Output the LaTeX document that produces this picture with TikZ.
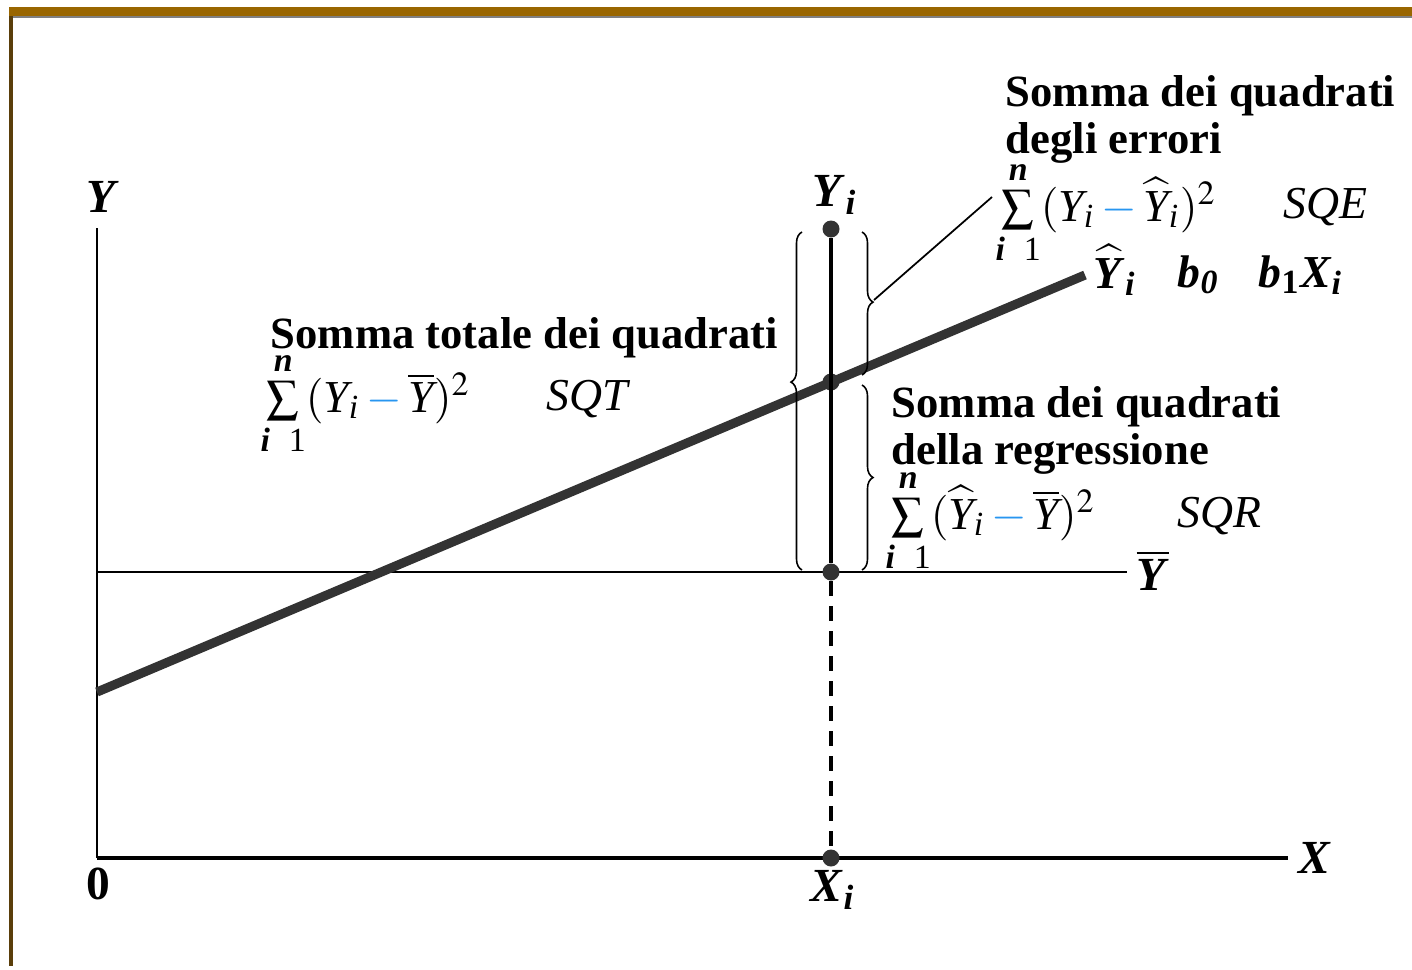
\documentclass[tikz,border=0pt]{standalone}
\usepackage{amsmath}
\usepackage{mathptmx}
\usepackage{fontspec}
\setmainfont{Liberation Serif}
\usepackage{tikz}
\usetikzlibrary{calc,positioning,decorations.pathreplacing}

\definecolor{framebrown}{RGB}{153,102,0}
\definecolor{framedark}{RGB}{90,62,10}
\definecolor{linegray}{RGB}{51,51,51}
\definecolor{mblue}{RGB}{40,150,240}

\newcommand{\bi}[1]{\textbf{\textit{#1}}}
\newcommand{\vY}{\text{\itshape Y}}
\newcommand{\vi}{\text{\itshape i}}
\newcommand{\bmin}{\mathbin{\textcolor{mblue}{-}}}
\newcommand{\sumin}{\sum\limits_{\text{\bfseries\itshape i}\;\;\,\text{1}}^{\text{\bfseries\itshape n}}}

\tikzset{
  txt/.style={font=\fontsize{12.7}{13.4}\selectfont\bfseries,inner sep=0pt,anchor=base west},
  frm/.style={font=\fontsize{13}{13.4}\selectfont,inner sep=0pt,anchor=base west},
  axlbl/.style={font=\fontsize{13.5}{14}\selectfont,inner sep=0pt},
  pt/.style={circle,fill=linegray,inner sep=0pt,minimum size=0.17cm},
  brc/.style={decorate,decoration={brace,amplitude=0.11cm},line width=0.45pt}
}

\begin{document}
\begin{tikzpicture}[x=0.01cm,y=-0.01cm]
\useasboundingbox (0,0) rectangle (1412,969);
% frame
\fill[framebrown] (9,7) rectangle (1412,16);
\draw[gray,line width=0.4pt] (12,16.8)--(1412,16.8);
\fill[framedark] (9,16) rectangle (12.5,966);

% axes
\coordinate (o) at (97,858);\coordinate (ytop) at (97,228);\coordinate (xend) at (1288,858);
\draw[line width=0.85pt] (ytop)--(o);
\draw[line width=1.15pt] (o)--(xend);
\node[axlbl] (ylab) at (103,197) {\bi{Y}};
\node[axlbl,anchor=west] (xlab) at (1298,858) {\bi{X}};
\node[axlbl] (zero) at (98,884) {\textbf{0}};

% mean line
\coordinate (ybl) at (97,572);\coordinate (ybr) at (1127,572);
\draw[line width=0.75pt] (ybl)--(ybr);
\node[axlbl] (ybarlab) at (1153,570) {$\overline{\mbox{\bi{Y}}}$};

% regression line
\coordinate (b0) at (97,692);\coordinate (rend) at (1085,275);
\draw[linegray,line width=2.6pt] (b0)--(rend);

% points on X_i
\node[pt] (yi) at (831,229) {};
\node[pt] (yhat) at (831,382) {};
\node[pt] (ybar) at (831,572) {};
\node[pt] (xi) at (831,858) {};
\draw[line width=1pt] (yi)--(ybar);
\draw[line width=0.9pt,dash pattern=on 0.15cm off 0.1cm] (ybar)--(xi);
\node[axlbl] (yilab) at (835,195) {\bi{Y}\textsubscript{\bi{i}}};
\node[axlbl] (xilab) at (833,890) {\bi{X}\textsubscript{\bi{i}}};

% braces
\draw[brc,decoration={aspect=0.556}] (802,570)--(802,232);
\draw[brc,decoration={aspect=0.49}] (862,232)--(862,375);
\draw[brc,decoration={aspect=0.5}] (862,385)--(862,570);
\coordinate (tipe) at (874,300);\coordinate (leadend) at (992,197);
\draw[line width=0.5pt] (tipe)--(leadend);

% errors
\node[txt] (sqe1) at (1005,106) {Somma dei quadrati};
\node[txt] (sqe2) at (1005,153) {degli errori};
\node[frm] (sqef) at (995,221) {$\sumin (\vY_{\vi} \bmin \widehat{\vY}_{\vi})^2$};
\node[frm] (sqe) at (1283,218) {\textit{SQE}};
\node[frm] (rl1) at (1093,288) {$\widehat{\mbox{\bi{Y}}}$\textsubscript{\bi{i}}};
\node[frm] (rl2) at (1177,287) {\bi{b}\textsubscript{\bi{0}}};
\node[frm] (rl3) at (1258,287) {\bi{b}\textsubscript{\textbf{1}}\bi{X}\textsubscript{\bi{i}}};

% total
\node[txt] (sqt1) at (270,348) {Somma totale dei quadrati};
\node[frm] (sqtf) at (260,412) {$\sumin (\vY_{\vi} \bmin \overline{\vY})^2$};
\node[frm] (sqt) at (546,410) {\textit{SQT}};

% regression
\node[txt] (sqr1) at (891,417) {Somma dei quadrati};
\node[txt] (sqr2) at (891,464) {della regressione};
\node[frm] (sqrf) at (885,529) {$\sumin (\widehat{\vY}_{\vi} \bmin \overline{\vY})^2$};
\node[frm] (sqr) at (1177,527) {\textit{SQR}};
\end{tikzpicture}
\end{document}
